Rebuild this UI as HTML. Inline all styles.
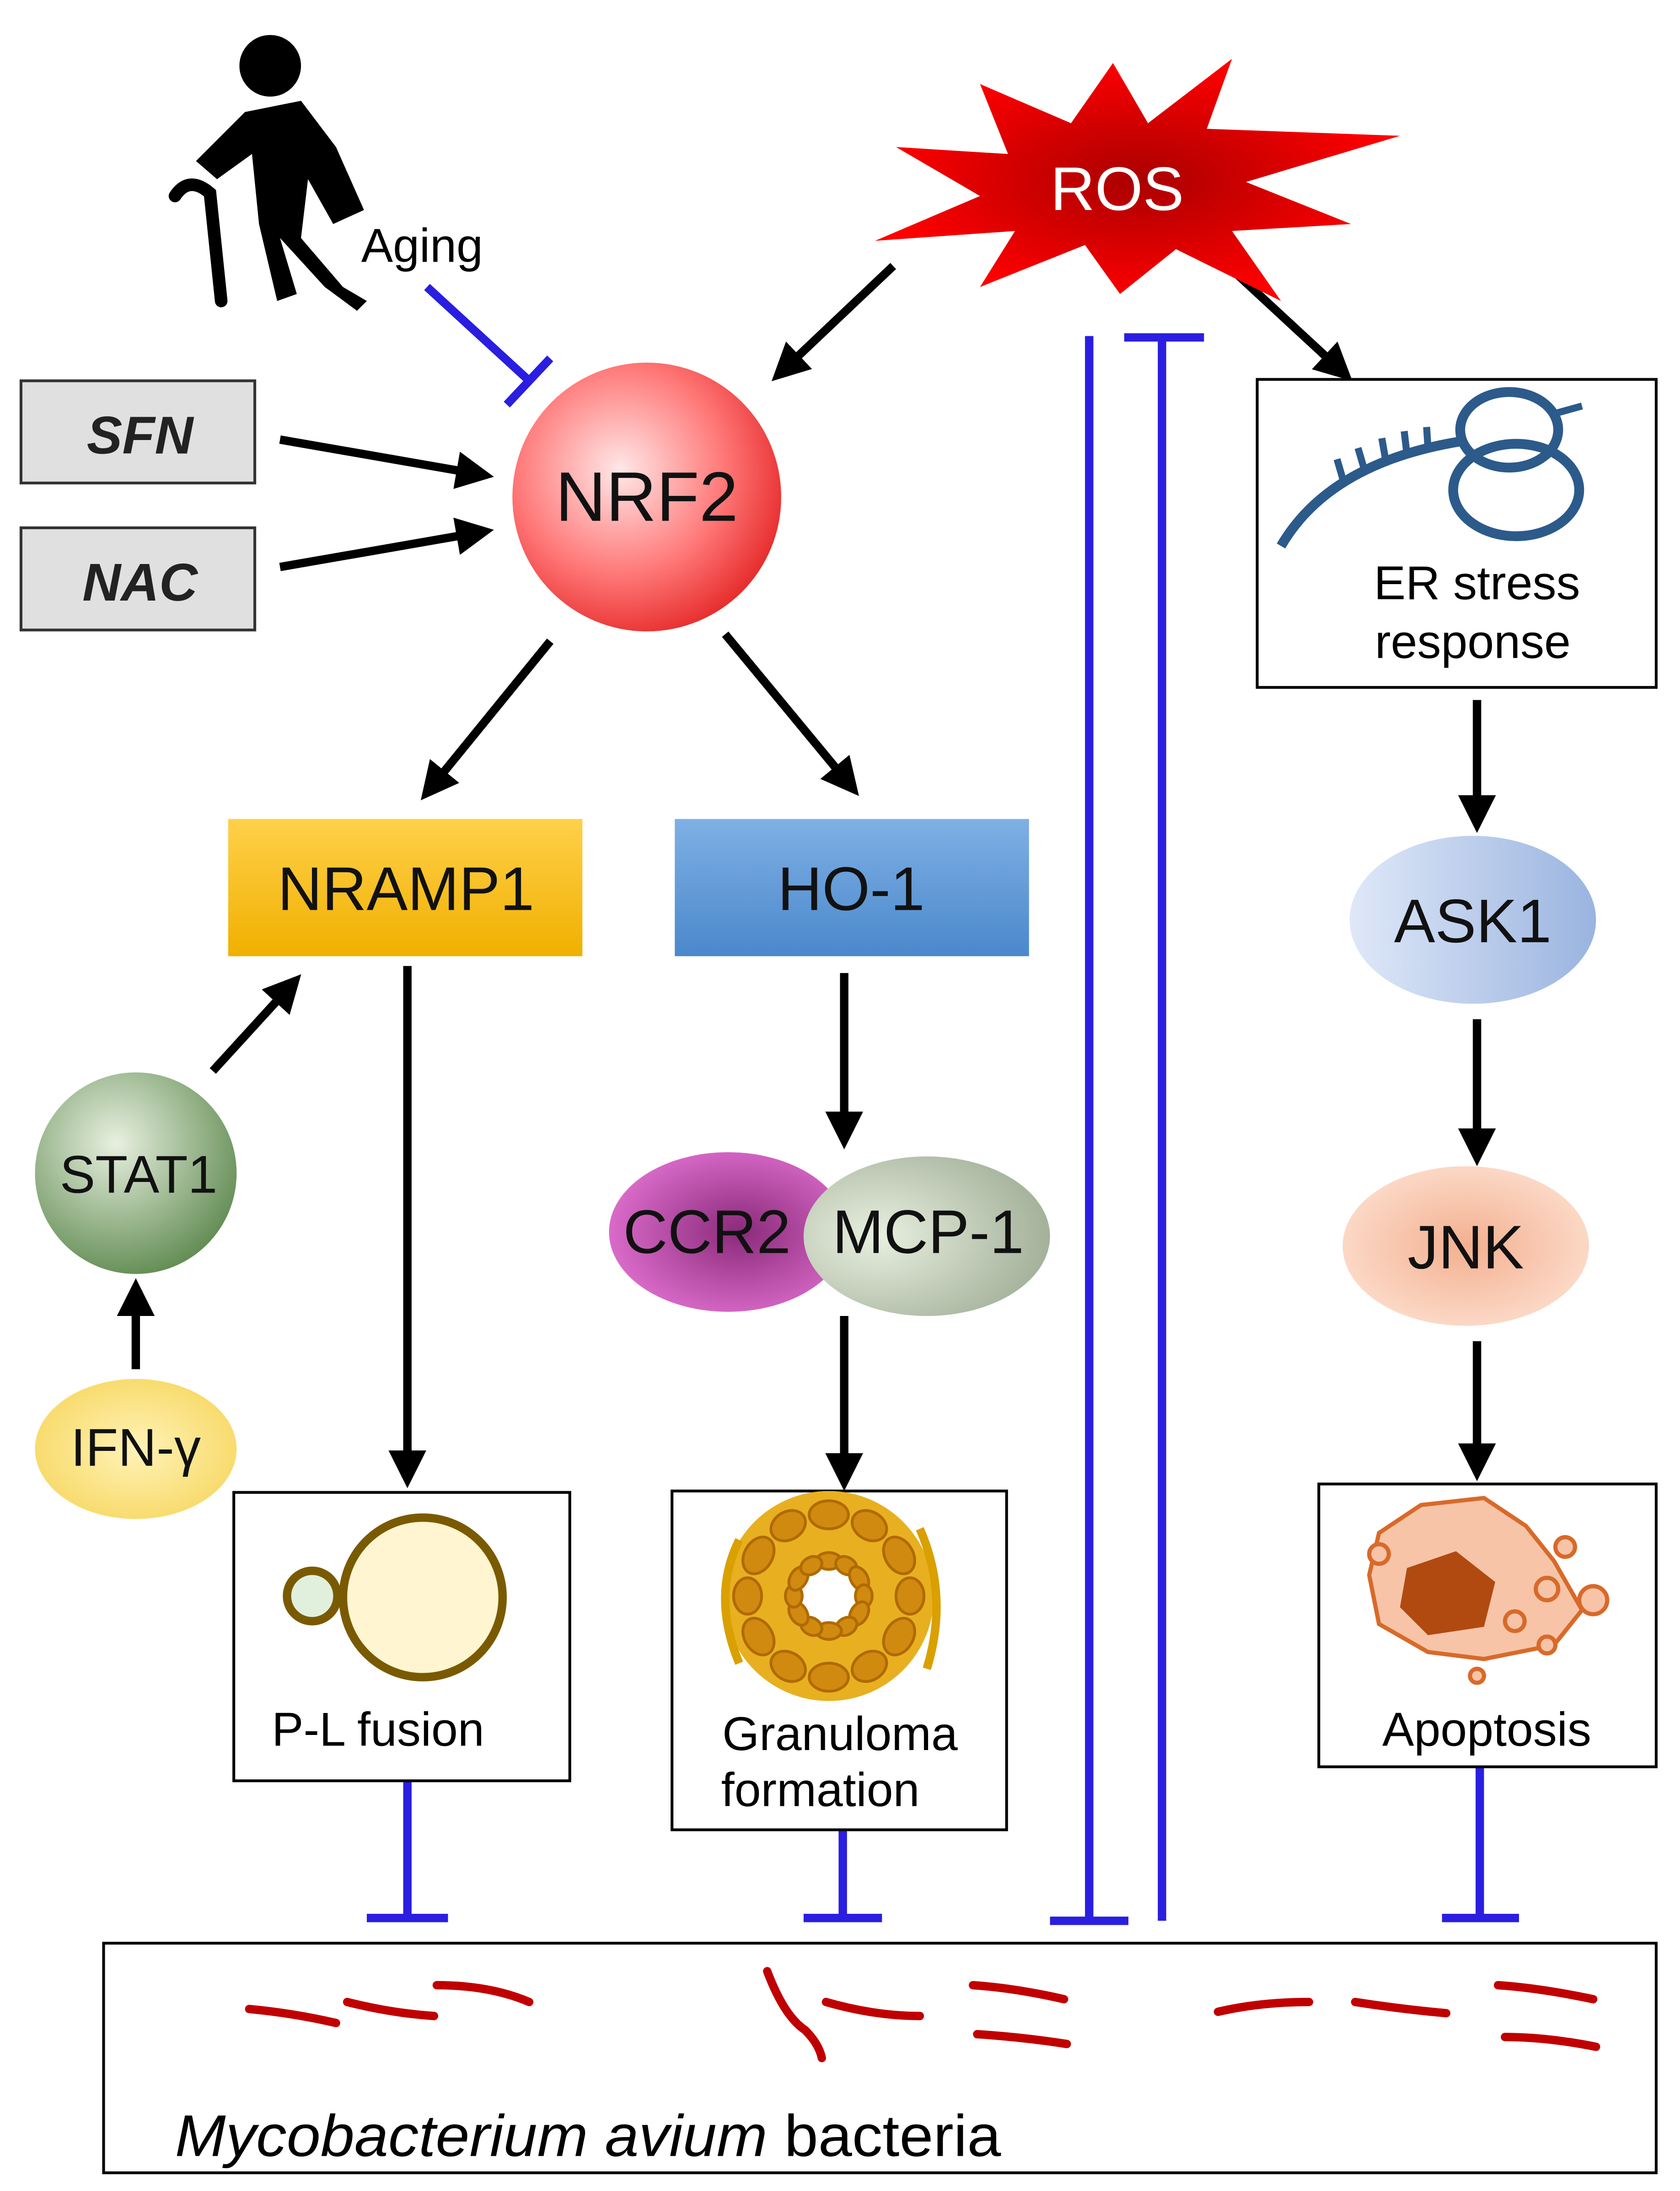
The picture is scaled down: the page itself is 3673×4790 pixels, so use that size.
<!DOCTYPE html>
<html><head><meta charset="utf-8"><style>html,body{margin:0;padding:0;background:#fff}svg{display:block}</style></head>
<body>
<svg xmlns="http://www.w3.org/2000/svg" width="3673" height="4790" viewBox="0 0 1200 1565" preserveAspectRatio="none" font-family="Liberation Sans, DejaVu Sans, sans-serif">
<defs>
<marker id="ah" markerWidth="4.5" markerHeight="4.5" refX="2" refY="2.25" orient="auto" markerUnits="strokeWidth"><path d="M0,0 L4.5,2.25 L0,4.5 z" fill="#000"/></marker>
<radialGradient id="gNrf" cx="0.4" cy="0.4" r="0.65"><stop offset="0" stop-color="#ffe8e8"/><stop offset="0.6" stop-color="#f77"/><stop offset="1" stop-color="#e62a2a"/></radialGradient>
<radialGradient id="gRos" cx="0.5" cy="0.5" r="0.5"><stop offset="0" stop-color="#a00"/><stop offset="1" stop-color="#f00"/></radialGradient>
<linearGradient id="gNr" x1="0" y1="0" x2="0" y2="1"><stop offset="0" stop-color="#ffd04a"/><stop offset="1" stop-color="#f0b000"/></linearGradient>
<linearGradient id="gHo" x1="0" y1="0" x2="0" y2="1"><stop offset="0" stop-color="#7fb0e4"/><stop offset="1" stop-color="#4a88cc"/></linearGradient>
<radialGradient id="gSt" cx="0.4" cy="0.35" r="0.7"><stop offset="0" stop-color="#e8f0e0"/><stop offset="1" stop-color="#5f8a50"/></radialGradient>
<radialGradient id="gIfn" cx="0.5" cy="0.5" r="0.6"><stop offset="0" stop-color="#fff3b8"/><stop offset="1" stop-color="#f7d760"/></radialGradient>
<radialGradient id="gCcr" cx="0.55" cy="0.5" r="0.6"><stop offset="0" stop-color="#8a2a7a"/><stop offset="1" stop-color="#e070d0"/></radialGradient>
<radialGradient id="gMcp" cx="0.3" cy="0.5" r="0.8"><stop offset="0" stop-color="#e8f0e0"/><stop offset="1" stop-color="#9aa890"/></radialGradient>
<linearGradient id="gAsk" x1="0" y1="0" x2="1" y2="0"><stop offset="0" stop-color="#dfe8f8"/><stop offset="1" stop-color="#9ab4e0"/></linearGradient>
<radialGradient id="gJnk" cx="0.5" cy="0.5" r="0.6"><stop offset="0" stop-color="#f3b090"/><stop offset="1" stop-color="#fde0d0"/></radialGradient>
</defs>

<g fill="#000" stroke="#000">
<circle cx="193" cy="47" r="22" stroke="none"/>
<path d="M140,115 L175,80 L215,72 L240,105 L260,150 L238,160 L220,128 L215,170 L245,205 L262,215 L255,222 L232,205 L200,170 L212,210 L198,215 L185,160 L180,110 L155,128 Z" stroke="none"/>
<path d="M125,140 Q135,125 150,138 L158,215" fill="none" stroke-width="9" stroke-linecap="round"/>
</g>
<text x="258" y="187" font-size="34">Aging</text>
<line x1="305" y1="205" x2="378" y2="272" stroke="#2a1ee0" stroke-width="6"/>
<line x1="362" y1="289" x2="393" y2="256" stroke="#2a1ee0" stroke-width="6"/>

<rect x="15" y="272" width="167" height="73" fill="#e0e0e0" stroke="#333" stroke-width="2"/>
<text x="100" y="324" font-size="38" font-weight="bold" font-style="italic" text-anchor="middle" fill="#222">SFN</text>
<rect x="15" y="377" width="167" height="73" fill="#e0e0e0" stroke="#333" stroke-width="2"/>
<text x="100" y="429" font-size="38" font-weight="bold" font-style="italic" text-anchor="middle" fill="#222">NAC</text>
<g stroke="#000" stroke-width="6" marker-end="url(#ah)">
<line x1="200" y1="314" x2="338" y2="338"/>
<line x1="200" y1="405" x2="338" y2="381"/>
<line x1="638" y1="190" x2="562" y2="262"/>
<line x1="875" y1="188" x2="955" y2="262"/>
<line x1="393" y1="458" x2="310" y2="560"/>
<line x1="518" y1="453" x2="604" y2="557"/>
<line x1="291" y1="690" x2="291" y2="1048"/>
<line x1="152" y1="765" x2="205" y2="707"/>
<line x1="97" y1="978" x2="97" y2="928"/>
<line x1="603" y1="695" x2="603" y2="806"/>
<line x1="603" y1="940" x2="603" y2="1050"/>
<line x1="1055" y1="500" x2="1055" y2="580"/>
<line x1="1055" y1="728" x2="1055" y2="818"/>
<line x1="1055" y1="958" x2="1055" y2="1043"/>
</g>

<circle cx="462" cy="355" r="96" fill="url(#gNrf)"/>
<text x="462" y="372" font-size="50" text-anchor="middle" fill="#111">NRF2</text>

<path d="M640,105 L720,110 L700,60 L765,88 L795,45 L820,88 L880,42 L862,92 L1000,97 L890,130 L965,160 L880,165 L915,215 L840,178 L800,210 L775,175 L700,205 L725,165 L625,172 L700,140 Z" fill="url(#gRos)"/>
<text x="798" y="150" font-size="44" text-anchor="middle" fill="#fff">ROS</text>

<g stroke="#2a1ee0" stroke-width="6">
<line x1="778" y1="240" x2="778" y2="1372"/><line x1="750" y1="1372" x2="806" y2="1372"/>
<line x1="830" y1="241" x2="830" y2="1372"/><line x1="803" y1="241" x2="860" y2="241"/>
<line x1="291" y1="1272" x2="291" y2="1370"/><line x1="262" y1="1370" x2="320" y2="1370"/>
<line x1="602" y1="1307" x2="602" y2="1370"/><line x1="574" y1="1370" x2="630" y2="1370"/>
<line x1="1057" y1="1262" x2="1057" y2="1370"/><line x1="1030" y1="1370" x2="1085" y2="1370"/>
</g>

<rect x="898" y="271" width="285" height="220" fill="#fff" stroke="#000" stroke-width="2"/>
<g fill="none" stroke="#2c5a8a" stroke-width="7">
<ellipse cx="1078" cy="307" rx="35" ry="27"/>
<ellipse cx="1083" cy="350" rx="45" ry="33"/>
<path d="M915,390 Q950,330 1045,315"/>
</g>
<g stroke="#2c5a8a" stroke-width="5"><line x1="960" y1="345" x2="955" y2="328"/><line x1="975" y1="337" x2="970" y2="320"/><line x1="990" y1="330" x2="987" y2="313"/><line x1="1005" y1="325" x2="1003" y2="308"/><line x1="1020" y1="320" x2="1019" y2="305"/><line x1="1112" y1="295" x2="1130" y2="290"/></g>
<text x="1055" y="428" font-size="34" text-anchor="middle">ER stress</text>
<text x="1052" y="470" font-size="34" text-anchor="middle">response</text>

<rect x="163" y="585" width="253" height="98" fill="url(#gNr)"/>
<text x="290" y="650" font-size="44" text-anchor="middle" fill="#111">NRAMP1</text>
<rect x="482" y="585" width="253" height="98" fill="url(#gHo)"/>
<text x="608" y="650" font-size="44" text-anchor="middle" fill="#111">HO-1</text>

<circle cx="97" cy="838" r="72" fill="url(#gSt)"/>
<text x="99" y="852" font-size="38" text-anchor="middle" fill="#111">STAT1</text>
<ellipse cx="97" cy="1035" rx="72" ry="50" fill="url(#gIfn)"/>
<text x="97" y="1047" font-size="38" text-anchor="middle" fill="#111">IFN-γ</text>

<ellipse cx="520" cy="880" rx="85" ry="57" fill="url(#gCcr)"/>
<ellipse cx="662" cy="883" rx="88" ry="57" fill="url(#gMcp)"/>
<text x="505" y="895" font-size="44" text-anchor="middle" fill="#111">CCR2</text>
<text x="663" y="895" font-size="44" text-anchor="middle" fill="#111">MCP-1</text>

<ellipse cx="1052" cy="657" rx="88" ry="60" fill="url(#gAsk)"/>
<text x="1052" y="673" font-size="44" text-anchor="middle" fill="#111">ASK1</text>
<ellipse cx="1047" cy="890" rx="88" ry="57" fill="url(#gJnk)"/>
<text x="1047" y="906" font-size="44" text-anchor="middle" fill="#111">JNK</text>

<rect x="167" y="1066" width="240" height="206" fill="#fff" stroke="#000" stroke-width="2"/>
<circle cx="223" cy="1140" r="18" fill="#e0f0dc" stroke="#7a5a00" stroke-width="6"/>
<circle cx="302" cy="1141" r="57" fill="#fff5d0" stroke="#7a5a00" stroke-width="6"/>
<text x="270" y="1247" font-size="34" text-anchor="middle">P-L fusion</text>

<rect x="480" y="1065" width="239" height="242" fill="#fff" stroke="#000" stroke-width="2"/>
<circle cx="592" cy="1140" r="75" fill="#e8b020"/>
<circle cx="592" cy="1140" r="30" fill="#fff"/>
<g fill="#d08a10" stroke="#b06a00" stroke-width="2">
<g transform="rotate(0 592 1140)"><ellipse cx="592" cy="1082" rx="14" ry="10"/><ellipse cx="592" cy="1115" rx="9" ry="6"/></g>
<g transform="rotate(30 592 1140)"><ellipse cx="592" cy="1082" rx="13" ry="10"/><ellipse cx="592" cy="1115" rx="8" ry="6"/></g>
<g transform="rotate(60 592 1140)"><ellipse cx="592" cy="1082" rx="14" ry="10"/><ellipse cx="592" cy="1115" rx="9" ry="6"/></g>
<g transform="rotate(90 592 1140)"><ellipse cx="592" cy="1082" rx="13" ry="10"/><ellipse cx="592" cy="1115" rx="8" ry="6"/></g>
<g transform="rotate(120 592 1140)"><ellipse cx="592" cy="1082" rx="14" ry="10"/><ellipse cx="592" cy="1115" rx="9" ry="6"/></g>
<g transform="rotate(150 592 1140)"><ellipse cx="592" cy="1082" rx="13" ry="10"/><ellipse cx="592" cy="1115" rx="8" ry="6"/></g>
<g transform="rotate(180 592 1140)"><ellipse cx="592" cy="1082" rx="14" ry="10"/><ellipse cx="592" cy="1115" rx="9" ry="6"/></g>
<g transform="rotate(210 592 1140)"><ellipse cx="592" cy="1082" rx="13" ry="10"/><ellipse cx="592" cy="1115" rx="8" ry="6"/></g>
<g transform="rotate(240 592 1140)"><ellipse cx="592" cy="1082" rx="14" ry="10"/><ellipse cx="592" cy="1115" rx="9" ry="6"/></g>
<g transform="rotate(270 592 1140)"><ellipse cx="592" cy="1082" rx="13" ry="10"/><ellipse cx="592" cy="1115" rx="8" ry="6"/></g>
<g transform="rotate(300 592 1140)"><ellipse cx="592" cy="1082" rx="14" ry="10"/><ellipse cx="592" cy="1115" rx="9" ry="6"/></g>
<g transform="rotate(330 592 1140)"><ellipse cx="592" cy="1082" rx="13" ry="10"/><ellipse cx="592" cy="1115" rx="8" ry="6"/></g>
</g>
<path d="M528,1100 Q508,1140 528,1188 M657,1092 Q678,1140 662,1192" fill="none" stroke="#d9a000" stroke-width="6"/>
<text x="600" y="1250" font-size="34" text-anchor="middle">Granuloma</text>
<text x="586" y="1290" font-size="34" text-anchor="middle">formation</text>

<rect x="942" y="1060" width="241" height="202" fill="#fff" stroke="#000" stroke-width="2"/>
<path d="M985,1095 L1015,1075 L1060,1070 L1090,1090 L1110,1115 L1130,1150 L1110,1175 L1060,1185 L1020,1180 L985,1160 L978,1125 Z" fill="#f7c4a8" stroke="#d86a2a" stroke-width="3"/>
<path d="M1005,1120 L1040,1108 L1068,1130 L1060,1162 L1020,1168 L1000,1148 Z" fill="#b04a10"/>
<g fill="#f7c4a8" stroke="#d86a2a" stroke-width="3"><circle cx="1138" cy="1143" r="10"/><circle cx="1105" cy="1135" r="8"/><circle cx="1082" cy="1158" r="7"/><circle cx="1118" cy="1105" r="7"/><circle cx="985" cy="1110" r="7"/><circle cx="1055" cy="1197" r="5"/><circle cx="1105" cy="1175" r="6"/></g>
<text x="1062" y="1247" font-size="34" text-anchor="middle">Apoptosis</text>

<rect x="74" y="1388" width="1109" height="164" fill="#fff" stroke="#000" stroke-width="2"/>
<g fill="none" stroke="#c00000" stroke-width="6" stroke-linecap="round">
<path d="M178,1435 Q210,1438 240,1445"/><path d="M248,1430 Q280,1438 310,1440"/><path d="M312,1418 Q350,1418 378,1430"/>
<path d="M548,1408 Q560,1440 575,1450 Q585,1460 587,1470"/><path d="M590,1430 Q625,1440 657,1440"/>
<path d="M695,1418 Q725,1420 760,1428"/><path d="M698,1453 Q730,1455 762,1460"/>
<path d="M870,1437 Q900,1430 935,1430"/><path d="M968,1430 Q1000,1435 1033,1438"/>
<path d="M1070,1418 Q1100,1420 1138,1428"/><path d="M1075,1455 Q1105,1455 1140,1462"/>
</g>
<text x="125" y="1540" font-size="42" textLength="590" lengthAdjust="spacingAndGlyphs"><tspan font-style="italic">Mycobacterium avium</tspan> bacteria</text>
</svg>
</body></html>
